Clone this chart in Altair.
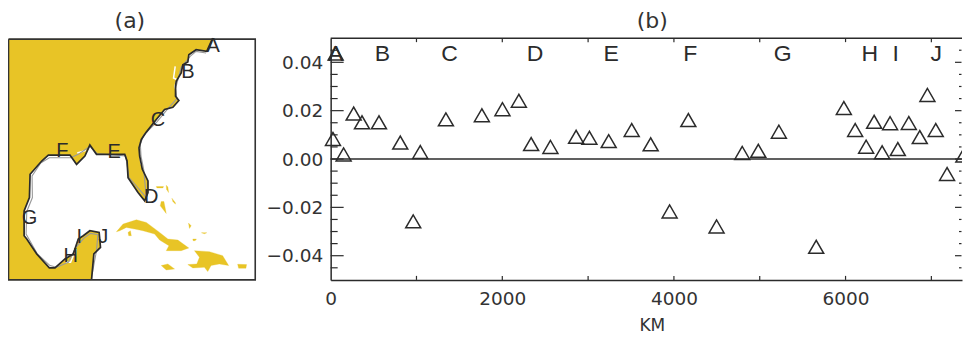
import altair as alt

# ---- panel (a): map, in map-grid units (x east, y south) ----
FRAME_X = [25, 768, 768, 25, 25]
FRAME_Y = [113, 113, 838, 838, 113]
COAST_X = [640, 622, 590, 568, 565, 550, 545, 530, 528, 528, 538, 520, 495, 470, 440, 425, 418, 420, 428, 445, 445, 435,
           415, 385, 382, 375, 290, 270, 255, 230, 210, 145, 125, 90, 88, 72, 72, 80, 110, 148, 165, 195, 220, 235, 250, 270, 298, 302, 282, 275]
COAST_Y = [110, 150, 145, 160, 182, 190, 215, 240, 255, 285, 298, 318, 325, 355, 393, 415, 440, 465, 505, 540, 575, 600,
           575, 530, 480, 460, 460, 432, 465, 490, 462, 462, 480, 520, 590, 630, 705, 715, 760, 802, 802, 775, 760, 715, 705, 690, 695, 740, 760, 838]
COAST2_X = [620, 590, 572, 545, 528, 532, 500, 472, 432, 422, 424, 432, 440, 388, 378, 292, 270, 250, 235, 212, 148, 122, 96, 97, 80, 78, 112, 150, 170, 205, 228, 252, 272, 294, 290, 278]
COAST2_Y = [155, 150, 165, 198, 262, 292, 328, 362, 402, 430, 465, 505, 590, 530, 465, 458, 436, 450, 460, 470, 470, 486, 525, 590, 632, 700, 760, 795, 800, 785, 740, 712, 698, 702, 750, 815]
WHITE_PIECES = [
    ([527, 522, 532, 526, 530], [195, 230, 235, 255, 270]),
    ([232, 245, 258], [456, 452, 448]),
    ([198, 212, 228, 226], [785, 785, 745, 770]),
    ([92, 90, 96], [525, 555, 590]),
    ([424, 420, 424], [420, 450, 490]),
]
ISLANDS = [
    ([350, 370, 410, 440, 480, 505, 535, 568, 545, 500, 508, 480, 465, 430, 405, 380, 360],
     [693, 670, 657, 665, 695, 715, 718, 742, 750, 750, 735, 718, 700, 690, 685, 680, 690]),
    ([565, 592, 600, 585, 630, 670, 688, 660, 635, 625, 615, 580],
     [792, 790, 770, 750, 753, 765, 795, 790, 795, 813, 800, 802]),
    ([485, 505, 525, 500], [795, 790, 805, 808]),
    ([715, 742, 740, 718], [791, 792, 803, 803]),
    ([385, 392, 395, 387], [695, 690, 705, 705]),
    ([485, 493, 500, 482], [602, 602, 638, 615]),
    ([470, 492, 490, 472], [557, 557, 561, 561]),
    ([500, 505, 507, 501], [553, 558, 575, 565]),
    ([517, 527, 528, 520], [592, 605, 610, 602]),
    ([567, 575, 570], [667, 675, 683]),
    ([606, 622, 615], [696, 696, 699]),
    ([580, 591, 587, 581], [715, 715, 720, 720]),
]
MAP_LETTERS = ["A", "B", "C", "D", "E", "F", "G", "H", "I", "J"]
MAP_LETTER_X = [641, 565, 475, 455, 343, 187, 88, 212, 238, 310]
MAP_LETTER_Y = [133, 212, 358, 587, 452, 450, 652, 765, 708, 708]
PANEL_TITLES = ["(a)", "(b)"]
X_TITLE = "KM"

# ---- panel (b): scatter ----
KM = [58, 27, 151, 268, 365, 563, 811, 1044, 962, 1343, 1762, 2002, 2193, 2336, 2561, 2860, 3015, 3240,
      3508, 3729, 4168, 3950, 4497, 4796, 4983, 5223, 5658, 5980, 6112, 6333, 6240, 6426, 6519, 6609, 6737,
      6865, 6954, 7051, 7183, 7373]
VAL = [.0436, .0083, .0019, .0188, .0152, .0152, .0068, .0029, -.0258, .0164, .0181, .0206, .0241, .0062, .005, .0092, .0088, .0074,
       .012, .0061, .0161, -.0217, -.0279, .0025, .0034, .0113, -.0363, .0211, .012, .0154, .0051, .0028, .0148, .0041, .0149,
       .0091, .0265, .012, -.0062, .0014]
SEC_LETTER_KM = [58, 602, 1385, 2383, 3268, 4191, 5266, 6283, 6585, 7058]
SEC_LETTER_Y = 0.0436
Y_MAJOR = [-0.04, -0.02, 0.0, 0.02, 0.04]
Y_MINOR = [-0.045, -0.035, -0.03, -0.025, -0.015, -0.01, -0.005, 0.005, 0.01, 0.015, 0.025, 0.03, 0.035, 0.045]
X_TICKS = [1000, 2000, 3000, 4000, 5000, 6000, 7000]
X_LABELS = [0, 2000, 4000, 6000]

GOLD = "#E8C426"
INK = "#2b2b2b"
TXT = "#333333"
FONT = "DejaVu Sans"
LETTER_FONT = "Liberation Sans"


def poly(xs, ys):
    return {"type": "Feature", "properties": {},
            "geometry": {"type": "Polygon", "coordinates": [[[x, y] for x, y in zip(xs, ys)] + [[xs[0], ys[0]]]]}}


def line(xs, ys):
    return {"type": "Feature", "properties": {},
            "geometry": {"type": "LineString", "coordinates": [[x, y] for x, y in zip(xs, ys)]}}


def panel_title(text, cx, cy=-17.5, size=22):
    return alt.Chart(alt.Data(values=[{"t": text}])).mark_text(
        font=FONT, fontSize=size, color=TXT, baseline="middle", align="center"
    ).encode(x=alt.value(cx), y=alt.value(cy), text="t:N")


land_x = [25, 25] + COAST_X
land_y = [838, 113] + COAST_Y
land_x[2] = 640
land_y[2] = 113

frame = line(FRAME_X, FRAME_Y)
land = alt.Chart(alt.Data(values=[poly(land_x, land_y)] + [poly(a, b) for a, b in ISLANDS])).mark_geoshape(
    fill=GOLD, stroke=GOLD, strokeWidth=0.3).project(type="identity")
whites = alt.Chart(alt.Data(values=[line(a, b) for a, b in WHITE_PIECES])).mark_geoshape(
    filled=False, stroke="white", strokeWidth=1.5).project(type="identity")
gray = alt.Chart(alt.Data(values=[line(COAST2_X, COAST2_Y)])).mark_geoshape(
    filled=False, stroke="#9a9a9a", strokeWidth=1.1).project(type="identity")
black = alt.Chart(alt.Data(values=[line(COAST_X, COAST_Y)])).mark_geoshape(
    filled=False, stroke=INK, strokeWidth=1.7).project(type="identity")
box = alt.Chart(alt.Data(values=[frame])).mark_geoshape(
    filled=False, stroke="#333333", strokeWidth=1.6).project(type="identity")
map_text = alt.Chart(alt.Data(values=[{"t": t, "x": x, "y": y} for t, x, y in zip(MAP_LETTERS, MAP_LETTER_X, MAP_LETTER_Y)])).mark_text(
    font=LETTER_FONT, fontSize=20, color=INK, baseline="middle", align="center"
).encode(longitude="x:Q", latitude="y:Q", text="t:N").project(type="identity")

panel_a = alt.layer(land, whites, gray, black, box, map_text, panel_title(PANEL_TITLES[0], 122)).properties(
    width=248, height=242,
)

W, H = 632, 242
xs = alt.Scale(domain=[0, 7357], nice=False, zero=False)
ys = alt.Scale(domain=[-0.05, 0.05], nice=False, zero=False)
x_plain = alt.X("v:Q", scale=xs, title=None)
y_plain = alt.Y("v:Q", scale=ys, title=None)


def vals(seq):
    return alt.Data(values=[{"v": v} for v in seq])


def tri(kms, values, clip):
    return alt.Chart(alt.Data(values=[{"km": k, "val": v} for k, v in zip(kms, values)])).mark_point(
        shape="triangle-up", size=225, filled=False, stroke=INK, strokeWidth=1.5, opacity=1, clip=clip
    )


base = tri(KM[:-1], VAL[:-1], False).encode(
    x=alt.X("km:Q", scale=xs, title=None,
            axis=alt.Axis(values=X_LABELS, format="d", ticks=False, grid=False, domainColor=INK, domainWidth=1.5,
                          labelFont=FONT, labelFontSize=18.5, labelColor=TXT, labelPadding=10, labelFlush=False)),
    y=alt.Y("val:Q", scale=ys, title=None,
            axis=alt.Axis(values=Y_MAJOR, format=".2f", ticks=False, grid=False, domainColor=INK, domainWidth=1.5,
                          labelFont=FONT, labelFontSize=18.5, labelColor=TXT, labelPadding=8)),
)
edge = tri(KM[-1:], VAL[-1:], True).encode(
    x=alt.X("km:Q", scale=xs, title=None), y=alt.Y("val:Q", scale=ys, title=None))
top_line = alt.Chart(vals([0])).mark_rule(color=INK, strokeWidth=1.5).encode(
    x=alt.value(0), x2=alt.value(W), y=alt.value(0))
zero_line = alt.Chart(vals([0])).mark_rule(color=INK, strokeWidth=1.5).encode(
    x=alt.value(0), x2=alt.value(W), y=y_plain)


def yticks(seq, a, b):
    return alt.Chart(vals(seq)).mark_rule(color=INK, strokeWidth=1.2).encode(
        x=alt.value(a), x2=alt.value(b), y=y_plain)


def xticks(a, b):
    return alt.Chart(vals(X_TICKS)).mark_rule(color=INK, strokeWidth=1.2).encode(
        x=x_plain, y=alt.value(a), y2=alt.value(b))


letters = alt.Chart(alt.Data(values=[{"t": t, "k": k, "y": SEC_LETTER_Y} for t, k in zip(MAP_LETTERS, SEC_LETTER_KM)])).mark_text(
    font=LETTER_FONT, fontSize=23, color=INK, baseline="middle", align="center"
).encode(x=alt.X("k:Q", scale=xs, title=None), y=alt.Y("y:Q", scale=ys, title=None), text="t:N")

panel_b = alt.layer(
    top_line, zero_line,
    yticks(Y_MAJOR, 0, 13), yticks(Y_MINOR, 0, 7),
    yticks(Y_MAJOR, W - 7, W - 0.5), yticks(Y_MINOR, W - 3, W - 0.5),
    xticks(0, 4), xticks(H - 4, H),
    base, edge, letters, panel_title(PANEL_TITLES[1], 322),
    panel_title(X_TITLE, 322, H + 46, 17),
).properties(width=W, height=H)

chart = alt.hconcat(panel_a, panel_b, spacing=7).properties(
    padding={"left": -3, "top": 1, "right": 0, "bottom": 0}, background="white"
).configure_view(stroke=None)

chart.save("out.html", embed_options={"renderer": "svg", "actions": False})
